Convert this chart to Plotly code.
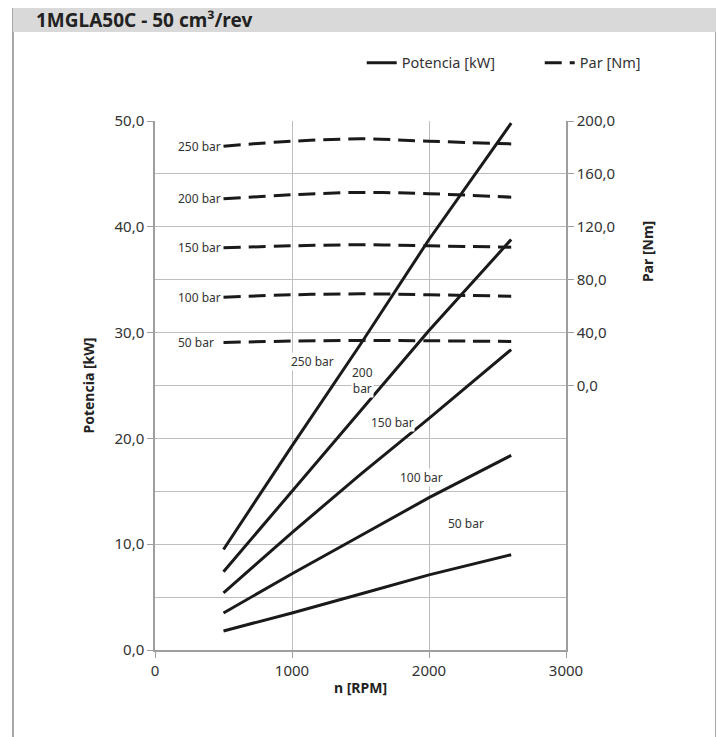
import plotly.graph_objects as go

# --- data ---
rpm = [500, 1000, 1500, 2000, 2600]
pressures = ["250 bar", "200 bar", "150 bar", "100 bar", "50 bar"]

potencia_kw = {
    "250 bar": [9.5, 19.3, 28.9, 38.8, 49.8],
    "200 bar": [7.4, 15.0, 22.6, 30.2, 38.8],
    "150 bar": [5.4, 11.1, 16.6, 21.9, 28.4],
    "100 bar": [3.5, 7.2, 10.8, 14.4, 18.4],
    "50 bar": [1.8, 3.5, 5.3, 7.1, 9.0],
}

par_nm = {
    "250 bar": [181.0, 184.7, 186.5, 184.7, 182.7],
    "200 bar": [141.2, 144.2, 146.0, 145.0, 142.4],
    "150 bar": [104.1, 105.6, 106.4, 105.6, 104.6],
    "100 bar": [66.8, 68.6, 69.3, 68.6, 67.5],
    "50 bar": [32.5, 33.6, 34.0, 33.8, 33.3],
}

x_ticks = [0, 1000, 2000, 3000]
y_ticks = [0, 10, 20, 30, 40, 50]
y2_ticks = [0, 40, 80, 120, 160, 200]

# label spots for the power curves (x, y in left-axis units)
power_label_pos = {
    "250 bar": (1146, 27.3, "250 bar"),
    "200 bar": (1511, 25.5, "200<br>bar"),
    "150 bar": (1737, 21.5, "150 bar"),
    "100 bar": (1942, 16.3, "100 bar"),
    "50 bar": (2270, 12.0, "50 bar"),
}
torque_label_x = 150  # left edge of the torque labels, in rpm units

FONT = "Noto Sans"
INK = "#1a1a1a"
TXT = "#333333"
GRID = "#bdbdbd"
AXIS = "#9e9e9e"

fig = go.Figure()

for i, p in enumerate(pressures):
    fig.add_trace(go.Scatter(
        x=rpm, y=potencia_kw[p], mode="lines", yaxis="y",
        line=dict(color=INK, width=3),
        name="Potencia [kW]", legendgroup="pot", showlegend=(i == 0),
        hoverinfo="skip",
    ))

for i, p in enumerate(pressures):
    fig.add_trace(go.Scatter(
        x=rpm, y=par_nm[p], mode="lines", yaxis="y2", line_shape="spline",
        line=dict(color=INK, width=3, dash="17px,8px"),
        name="Par [Nm]", legendgroup="par", showlegend=(i == 0),
        hoverinfo="skip",
    ))

annotations = []
for p in pressures:
    annotations.append(dict(
        x=torque_label_x, y=par_nm[p][0], xref="x", yref="y2",
        text=p, showarrow=False, xanchor="left",
        font=dict(family=FONT, size=12, color=TXT),
    ))
    lx, ly, lt = power_label_pos[p]
    annotations.append(dict(
        x=lx, y=ly, xref="x", yref="y", text=lt, showarrow=False,
        bgcolor="white", borderpad=0,
        font=dict(family=FONT, size=12, color=TXT),
    ))

# title and axis titles (paper coords from plot-area pixel geometry)
annotations += [
    dict(x=-0.295, y=1.19, xref="paper", yref="paper", xanchor="left",
         yanchor="middle", showarrow=False,
         text="<b>1MGLA50C - 50 cm³/rev</b>",
         font=dict(family=FONT, size=19, color="#222222")),
    dict(x=-0.163, y=0.5, xref="paper", yref="paper", showarrow=False,
         xanchor="center", yanchor="middle",
         text="<b>Potencia [kW]</b>", textangle=-90,
         font=dict(family=FONT, size=14, color="#222222")),
    dict(x=1.197, y=0.754, xref="paper", yref="paper", showarrow=False,
         xanchor="center", yanchor="middle",
         text="<b>Par [Nm]</b>", textangle=-90,
         font=dict(family=FONT, size=14, color="#222222")),
    dict(x=0.5, y=-0.07, xref="paper", yref="paper", showarrow=False,
         xanchor="center", yanchor="middle",
         text="<b>n [RPM]</b>",
         font=dict(family=FONT, size=14, color="#222222")),
]

shapes = [
    # outer frame
    dict(type="rect", xref="paper", yref="paper", x0=-0.3455, x1=1.365,
         y0=-0.25, y1=1.2193, line=dict(color="#a8a8a8", width=2),
         fillcolor="rgba(0,0,0,0)", layer="below"),
    # header band
    dict(type="rect", xref="paper", yref="paper", x0=-0.3455, x1=1.365,
         y0=1.1682, y1=1.2193, line=dict(width=0),
         fillcolor="#d9d9d9", layer="below"),
]

fig.update_layout(
    width=724, height=737,
    margin=dict(l=147, r=166, t=113, b=95),
    paper_bgcolor="white", plot_bgcolor="white",
    font=dict(family=FONT, size=15, color=TXT),
    showlegend=True,
    legend=dict(orientation="h", x=0.503, xanchor="left", y=1.11,
                yanchor="middle", font=dict(family=FONT, size=14.5, color=TXT),
                entrywidth=133, bgcolor="rgba(0,0,0,0)"),
    xaxis=dict(range=[0, 3000], tickvals=x_ticks, ticks="outside",
               ticklen=6, tickcolor=AXIS, showline=True, linecolor=AXIS,
               linewidth=1.5, showgrid=True, gridcolor=GRID, gridwidth=1.2,
               zeroline=False, tickfont=dict(size=15, color=TXT)),
    yaxis=dict(range=[0, 50], tickvals=y_ticks,
               ticktext=[f"{v:.1f}".replace(".", ",") for v in y_ticks],
               ticks="outside", ticklen=6, tickcolor=AXIS, showline=True,
               linecolor=AXIS, linewidth=1.5, showgrid=True, gridcolor=GRID,
               gridwidth=1.2, zeroline=False,
               minor=dict(dtick=5, showgrid=True, gridcolor=GRID,
                          gridwidth=1.2, ticks=""),
               tickfont=dict(size=15, color=TXT)),
    yaxis2=dict(range=[-200, 200], overlaying="y", side="right",
                tickvals=y2_ticks,
                ticktext=[f"{v:.1f}".replace(".", ",") for v in y2_ticks],
                ticks="outside", ticklen=6, tickcolor=AXIS, showline=True,
                linecolor=AXIS, linewidth=1.5, showgrid=False,
                zeroline=False, tickfont=dict(size=15, color=TXT)),
    annotations=annotations,
    shapes=shapes,
)

fig.write_html("out.html")
